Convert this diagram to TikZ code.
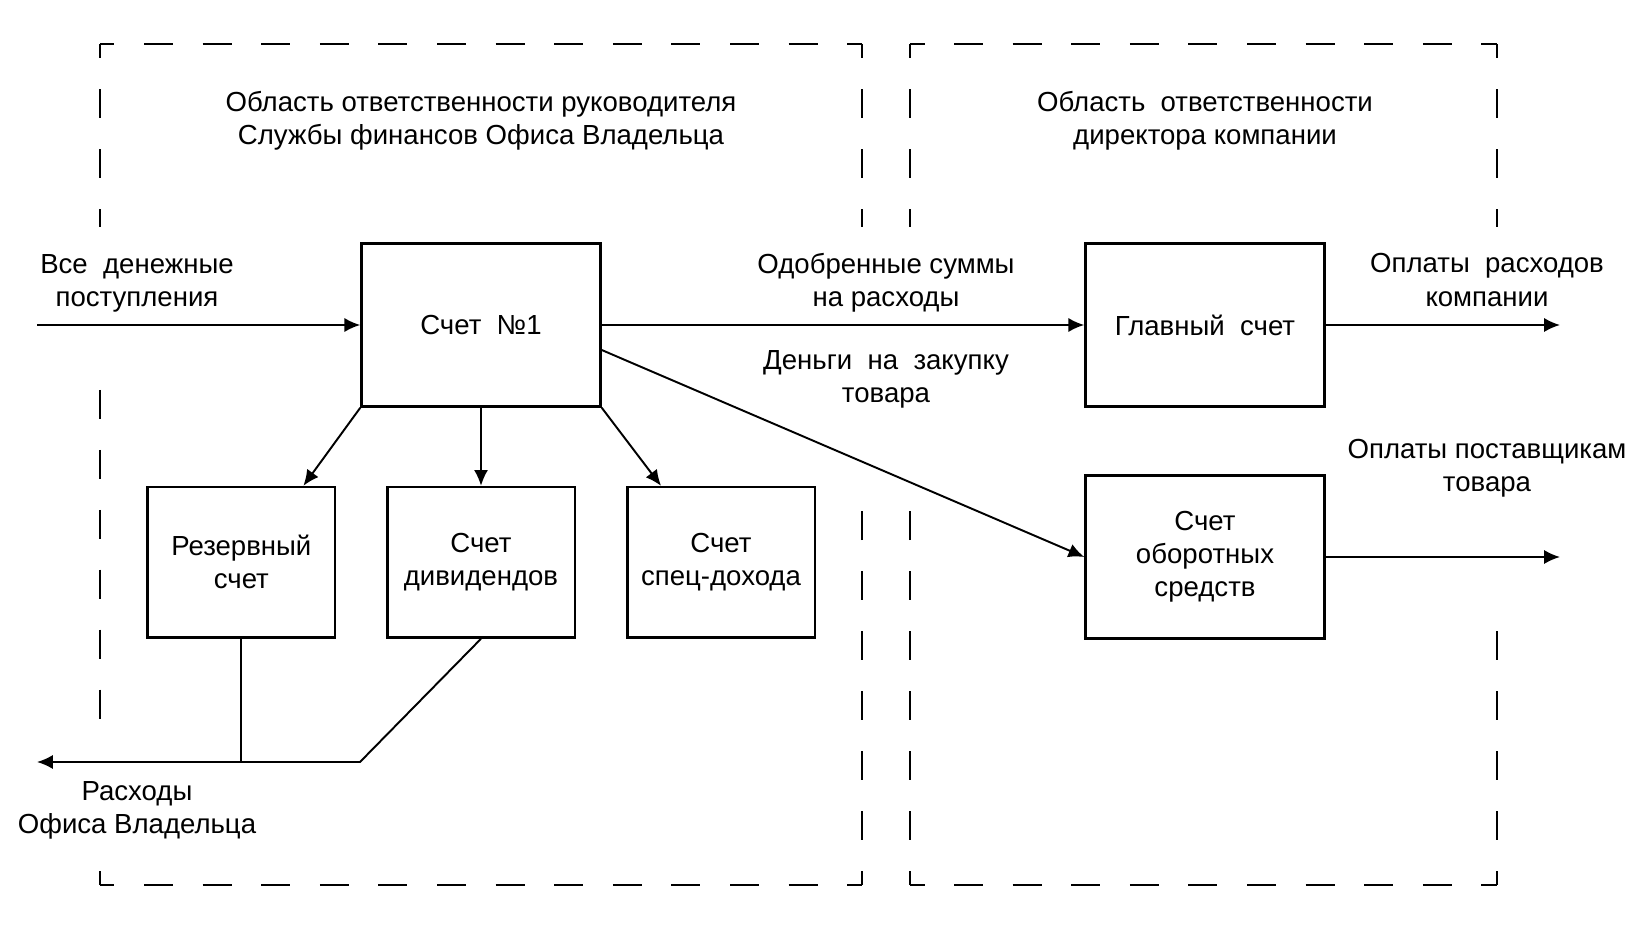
\documentclass[tikz,border=0pt]{standalone}
\usepackage{fontspec}
\setmainfont{Liberation Sans}
\usetikzlibrary{calc}
\usetikzlibrary{arrows.meta}

\begin{document}
\begin{tikzpicture}[x=0.02cm,y=-0.02cm,
  every node/.style={font=\fontsize{15.7}{18.8}\selectfont, align=center, inner sep=0pt},
  acc/.style={draw, line width=1.4pt, minimum width=4.78cm, minimum height=3.26cm},
  subacc/.style={draw, line width=1.4pt, minimum width=3.75cm, minimum height=3.01cm},
  flow/.style={-{Latex[length=9pt,width=8pt]}, line width=1.1pt},
  zone/.style={line width=1.3pt, dash pattern=on 16.5pt off 17.6pt, dash phase=8.25pt},
  zoneh/.style={line width=1.3pt, dash pattern=on 16.5pt off 16.85pt, dash phase=8.25pt},
  zonerun/.style={line width=1.3pt, dash pattern=on 16.5pt off 17.6pt}]
\useasboundingbox (0,0) rectangle (1650,925);
% responsibility zones
%     owner's office
\draw[zoneh] (100,44) -- (862,44);
\draw[zoneh] (100,885) -- (862,885);
\draw[zone] (100,44) -- (100,227);
\draw[zonerun] (100,390) -- (100,727);
\draw[zone] (100,885) -- (100,871);
\draw[zone] (862,44) -- (862,227);
\draw[zone] (862,885) -- (862,510);
%     company director
\draw[zoneh] (910,44) -- (1497,44);
\draw[zoneh] (910,885) -- (1497,885);
\draw[zone] (910,44) -- (910,227);
\draw[zone] (910,885) -- (910,510);
\draw[zone] (1497,44) -- (1497,227);
\draw[zone] (1497,885) -- (1497,630);
\node (t1) at (481,121) {Область ответственности руководителя\\Службы финансов Офиса Владельца};
\node (t2) at (1205,121) {Область\ \ ответственности\\директора компании};
% accounts
\node[acc] (n1) at (481,325) {Счет\ \ №1};
\node[subacc] (rez) at (241.4,562.3) {Резервный\\счет};
\node[subacc] (div) at (481,562.3) {Счет\\дивидендов};
\node[subacc] (spec) at (721,562.3) {Счет\\спец-дохода};
\node[acc] (glav) at (1205,325) {Главный\ \ счет};
\node[acc] (obor) at (1205,557) {Счет\\оборотных\\средств};
% free ends
\coordinate (inp) at (37,325);
\coordinate (out1) at (1560,325);
\coordinate (out2) at (1560,557);
\coordinate (knee) at (360,762);
\coordinate (outl) at (37,762);
% flows
\draw[flow] (inp) -- (n1);
\draw[flow] (n1) -- (glav);
\draw[flow] (glav) -- (out1);
\draw[flow] ($(n1.east)+(0,25)$) -- (obor.west);
\draw[flow] (obor) -- (out2);
\draw[flow] (n1.south west) -- ($(rez.north)+(62,0)$);
\draw[flow] (n1.south) -- (div.north);
\draw[flow] (n1.south east) -- ($(spec.north)+(-60,0)$);
\draw[flow] (div.south) -- (knee) -- (outl);
\draw[line width=1.1pt] (rez.south) -- (rez.south |- knee);
% labels
\node (l1) at (137,283) {Все\ \ денежные\\поступления};
\node (l2) at (886,283) {Одобренные суммы\\на расходы};
\node (l3) at (886,379) {Деньги\ \ на\ \ закупку\\товара};
\node (l4) at (1487,280) {Оплаты\ \ расходов\\компании};
\node (l5) at (1487,468) {Оплаты поставщикам\\товара};
\node (l6) at (137,810) {Расходы\\Офиса Владельца};
\end{tikzpicture}
\end{document}
